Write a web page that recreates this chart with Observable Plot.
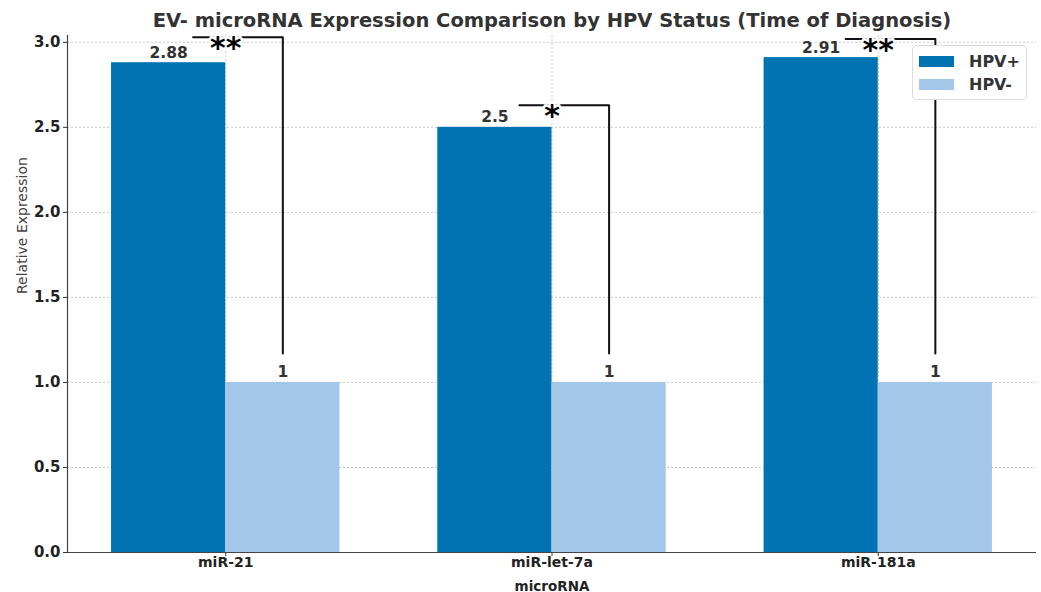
<!DOCTYPE html>
<html>
<head>
<meta charset="utf-8">
<script src="https://cdn.jsdelivr.net/npm/d3@7"></script>
<script src="https://cdn.jsdelivr.net/npm/@observablehq/plot@0.6"></script>
<style>
  html, body { margin: 0; padding: 0; background: #fff; }
  #wrap { position: relative; width: 1041px; height: 592px; font-family: "DejaVu Sans", sans-serif; }
  #legend { position: absolute; left: 912px; top: 45px; width: 115px; height: 55px; background: #fff;
            border: 1px solid #ddd; border-radius: 4px; box-sizing: border-box; font-weight: bold; font-size: 16px; color: #333; }
  .li { position: absolute; left: 6px; display: flex; align-items: center; }
  .sw { width: 35px; height: 11px; margin-right: 15px; }
</style>
</head>
<body>
<div id="wrap"></div>
<script>
const categories = ["miR-21", "miR-let-7a", "miR-181a"];
const hpvPos = [2.88, 2.5, 2.91];
const hpvNeg = [1, 1, 1];
const stars = ["**", "*", "**"];
const bracketTop = [3.03, 2.63, 3.02];
const bracketBottom = [1.17, 1.17, 1.17];
const yTicks = [0, 0.5, 1.0, 1.5, 2.0, 2.5, 3.0];
const seriesNames = ["HPV+", "HPV-"];
const colors = ["#0173b2", "#a4c6e8"];
const title = "EV- microRNA Expression Comparison by HPV Status (Time of Diagnosis)";

const barW = 0.35;
const xDomain = [-0.485, 2.485];
const idx = categories.map((c, i) => i);

const bars = [];
idx.forEach(i => {
  bars.push({i, x1: i - barW, x2: i, v: hpvPos[i], s: seriesNames[0]});
  bars.push({i, x1: i, x2: i + barW, v: hpvNeg[i], s: seriesNames[1]});
});

const bracket = [];
idx.forEach(i => {
  bracket.push({g: i, x: i - 0.1, y: bracketTop[i]});
  bracket.push({g: i, x: i + barW / 2, y: bracketTop[i]});
  bracket.push({g: i, x: i + barW / 2, y: bracketBottom[i]});
});

const plot = Plot.plot({
  width: 1041,
  height: 592,
  marginLeft: 67,
  marginRight: 5,
  marginTop: 35,
  marginBottom: 40,
  style: {fontFamily: "DejaVu Sans, sans-serif", fontSize: "14px", color: "#222", background: "white"},
  x: {domain: xDomain},
  y: {domain: [0, 3.04]},
  color: {domain: seriesNames, range: colors},
  marks: [
    Plot.gridY(yTicks, {stroke: "#bbb", strokeOpacity: 1, strokeDasharray: "2,2", strokeWidth: 0.8}),
    Plot.gridX(idx, {stroke: "#bbb", strokeOpacity: 1, strokeDasharray: "2,2", strokeWidth: 0.8}),
    Plot.rect(bars, {x1: "x1", x2: "x2", y1: 0, y2: "v", fill: "s"}),
    Plot.text(bars, {x: d => (d.x1 + d.x2) / 2, y: "v", text: d => String(d.v), lineAnchor: "bottom", dy: -5,
      fontWeight: "bold", fontSize: 15.5, fill: "#333"}),
    Plot.line(bracket, {x: "x", y: "y", z: "g", stroke: "#111", strokeWidth: 2}),
    Plot.text(idx, {x: i => i, y: i => bracketTop[i], text: i => stars[i], fontSize: 30, fontWeight: "bold",
      fill: "#000", stroke: "white", strokeWidth: 5, dy: 11}),
    Plot.axisY(yTicks, {tickFormat: d3.format(".1f"), tickSize: 4, tickPadding: 3, fontWeight: "bold",
      fontSize: 15, label: null, stroke: "#333"}),
    Plot.axisX(idx, {tickFormat: i => categories[i], tickSize: 4, tickPadding: 1, fontWeight: "bold",
      fontSize: 14, label: null, stroke: "#333"}),
    Plot.ruleX([xDomain[0]], {stroke: "#444", strokeWidth: 1.2}),
    Plot.ruleY([0], {stroke: "#444", strokeWidth: 1.2}),
    Plot.text(["Relative Expression"], {frameAnchor: "left", rotate: -90, dx: -45, fontSize: 14, fill: "#444"}),
    Plot.text(["microRNA"], {frameAnchor: "bottom", dy: 38, fontSize: 13.5, fontWeight: "bold", fill: "#222"}),
    Plot.text([title], {frameAnchor: "top", dy: -22, fontSize: 19.5, fontWeight: "bold", fill: "#333"})
  ]
});

const wrap = document.getElementById("wrap");
wrap.appendChild(plot);

const legend = document.createElement("div");
legend.id = "legend";
seriesNames.forEach((n, k) => {
  const row = document.createElement("div");
  row.className = "li";
  row.style.top = (k === 0 ? 6 : 29) + "px";
  const sw = document.createElement("div");
  sw.className = "sw";
  sw.style.background = colors[k];
  const t = document.createElement("span");
  t.textContent = n;
  row.appendChild(sw);
  row.appendChild(t);
  legend.appendChild(row);
});
wrap.appendChild(legend);
</script>
</body>
</html>
